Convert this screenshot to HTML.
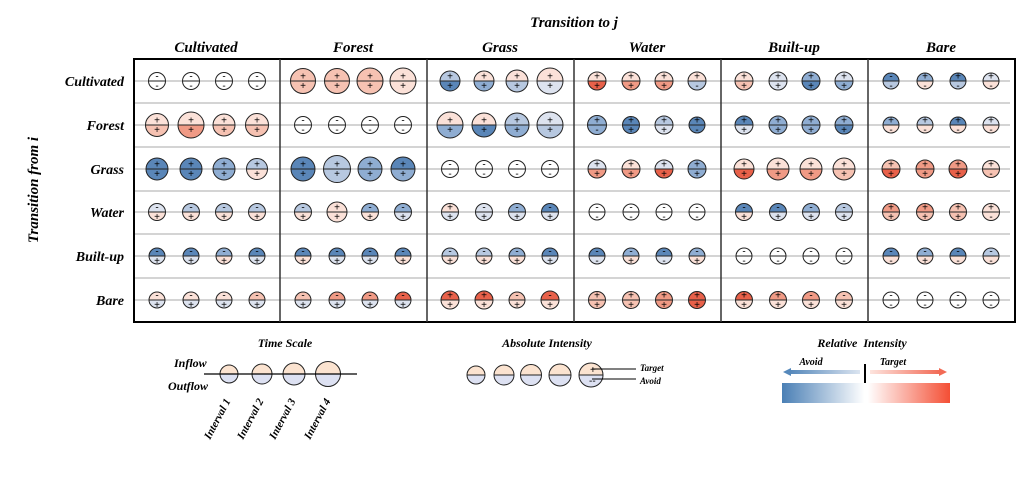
<!DOCTYPE html>
<html><head><meta charset="utf-8"><style>
html,body{margin:0;padding:0;background:#fff;}
svg{display:block;}
text{font-family:"Liberation Serif",serif;font-style:italic;font-weight:bold;fill:#000;}
.s{font-family:"Liberation Sans",sans-serif;font-style:normal;font-weight:normal;font-size:10px;}
</style></head><body>
<svg id="g" width="1024" height="488" viewBox="0 0 1024 488" xmlns="http://www.w3.org/2000/svg">
<defs>
<linearGradient id="bar" x1="0" x2="1"><stop offset="0" stop-color="#4a7fb5"/><stop offset="0.49" stop-color="#ffffff"/><stop offset="0.51" stop-color="#ffffff"/><stop offset="1" stop-color="#f44f35"/></linearGradient>
<linearGradient id="ab" x1="1" x2="0"><stop offset="0" stop-color="#dbe4f0"/><stop offset="1" stop-color="#5588bb"/></linearGradient>
<linearGradient id="ar" x1="0" x2="1"><stop offset="0" stop-color="#fde4de"/><stop offset="1" stop-color="#f26a55"/></linearGradient>
</defs>
<text x="574" y="27" font-size="15" text-anchor="middle">Transition to j</text>
<g font-size="15" text-anchor="middle">
<text x="206" y="52">Cultivated</text><text x="353" y="52">Forest</text><text x="500" y="52">Grass</text><text x="647" y="52">Water</text><text x="794" y="52">Built-up</text><text x="941" y="52">Bare</text>
</g>
<g font-size="14" text-anchor="end">
<text x="124" y="86">Cultivated</text><text x="124" y="130">Forest</text><text x="124" y="174">Grass</text><text x="124" y="217">Water</text><text x="124" y="261">Built-up</text><text x="124" y="305">Bare</text>
</g>
<text transform="translate(38,190) rotate(-90)" font-size="15" text-anchor="middle">Transition from i</text>
<g id="lines" stroke="#bbb" stroke-width="1.2"></g>
<g id="circ"></g>
<rect x="134" y="59" width="881" height="263" fill="none" stroke="#000" stroke-width="2"/>
<g stroke="#333" stroke-width="1.5"><line x1="280" y1="59" x2="280" y2="322"/><line x1="427" y1="59" x2="427" y2="322"/><line x1="574" y1="59" x2="574" y2="322"/><line x1="721" y1="59" x2="721" y2="322"/><line x1="868" y1="59" x2="868" y2="322"/></g>

<!-- legend: time scale -->
<text x="285" y="347" font-size="12" text-anchor="middle">Time Scale</text>
<text x="174" y="367" font-size="12">Inflow</text>
<text x="168" y="390" font-size="12">Outflow</text>
<g id="ts"></g>
<line x1="204" y1="374" x2="357" y2="374" stroke="#000" stroke-width="1.2"/>
<g font-size="11">
<text transform="translate(210,440) rotate(-62)">Interval 1</text>
<text transform="translate(243,440) rotate(-62)">Interval 2</text>
<text transform="translate(275,440) rotate(-62)">Interval 3</text>
<text transform="translate(310,440) rotate(-62)">Interval 4</text>
</g>
<!-- absolute -->
<text x="547" y="347" font-size="12" text-anchor="middle">Absolute Intensity</text>
<g id="ai"></g>
<line x1="592" y1="369" x2="636" y2="369" stroke="#000"/>
<line x1="592" y1="379" x2="636" y2="379" stroke="#000"/>
<text x="590" y="373" class="s" font-weight="bold">+</text>
<text x="589" y="384" class="s" font-weight="bold">--</text>
<text x="640" y="371" font-size="9">Target</text>
<text x="640" y="384" font-size="9">Avoid</text>
<!-- relative -->
<text x="862" y="347" font-size="12" text-anchor="middle">Relative&#160; Intensity</text>
<text x="811" y="365" font-size="10" text-anchor="middle">Avoid</text>
<text x="893" y="365" font-size="10" text-anchor="middle">Target</text>
<rect x="790" y="370" width="70" height="4" fill="url(#ab)"/>
<polygon points="783,372 791,368 791,376" fill="#5588bb"/>
<rect x="870" y="370" width="70" height="4" fill="url(#ar)"/>
<polygon points="947,372 939,368 939,376" fill="#f26a55"/>
<line x1="865" y1="364" x2="865" y2="385" stroke="#000" stroke-width="2"/>
<rect x="782" y="383" width="168" height="20" fill="url(#bar)"/>
</svg>
<script>
var C={W:"#ffffff",b1:"#dde3ef",b2:"#b7c8e0",b3:"#8fadd2",b4:"#5a86b8",r1:"#fbe1d8",r2:"#f6c2b2",r3:"#f09a85",r4:"#e8614a"};
var NS="http://www.w3.org/2000/svg";
function el(t,a,p){var e=document.createElementNS(NS,t);for(var k in a)e.setAttribute(k,a[k]);p.appendChild(e);return e;}
var rows=[81,125,169,212,256,300],mids=[103,147,191,234,278];
var L=document.getElementById("lines");
rows.concat(mids).forEach(function(y){el("line",{x1:134,y1:y,x2:1010,y2:y},L);});
var cols=[134,280,427,574,721,868],offs=[23,57,90,123];
// data: rows x cols, each cell 4 entries "r,top,bot,ts,bs"
var D=[
["8.5,W,W,-,-|8.5,W,W,-,-|8.5,W,W,-,-|8.5,W,W,-,-","12.5,r2,r2,+,+|12.5,r2,r2,+,+|13,r2,r2,+,+|13,r1,r1,+,+","10,b2,b4,+,+|10,r1,b3,+,+|11,r1,b2,+,+|13,r1,b1,+,+","9,r1,r4,+,+|9,r1,r3,+,+|9,r1,r3,+,+|9,r1,b2,+,-","9,r1,r2,+,+|9,b1,b1,+,+|9,b3,b4,+,+|9,b1,b3,+,+","8,b4,b2,-,-|8,b3,r1,+,-|8,b4,b2,+,-|8,b1,r1,+,-"],
["11.5,r1,r2,+,+|13,r1,r3,+,+|11,r1,r2,+,+|11.5,r1,r2,+,+","8.5,W,W,-,-|8.5,W,W,-,-|8.5,W,W,-,-|8.5,W,W,-,-","13,r1,b3,+,+|12,r1,b4,+,+|12,b2,b3,+,+|13,b1,b2,+,+","9.5,b3,b3,+,-|8.5,b4,b4,+,+|9,b2,b1,+,+|8,b4,b4,+,-","9,b4,b1,+,+|9,b3,b3,+,+|9,b3,b3,+,+|9,b3,b4,+,+","8,b3,r1,+,-|8,b2,r1,+,-|8,b4,r1,+,-|8,b1,r1,+,-"],
["11,b4,b4,+,+|11,b4,b4,+,+|11,b3,b3,+,+|10.5,b2,r1,+,+","12,b4,b4,+,+|13.5,b2,b2,+,+|12,b3,b3,+,+|12,b4,b3,+,+","8.5,W,W,-,-|8.5,W,W,-,-|8.5,W,W,-,-|8.5,W,W,-,-","9,b1,r3,+,+|9,r1,r3,+,+|9,b1,r4,+,+|9,b3,b3,+,+","10,r1,r4,+,+|11,r1,r3,+,+|11,r1,r3,+,+|11,r1,r2,+,+","9,r2,r4,+,+|9,r3,r3,+,+|9,r3,r4,+,+|8.5,r1,r2,+,-"],
["8.5,b1,r1,-,+|8.5,b2,r1,-,+|8.5,b2,r1,-,+|8.5,b2,r1,-,+","8.5,b2,r1,-,+|10,r1,r1,+,+|8.5,b3,r1,-,+|8.5,b3,b1,-,+","8.5,r1,b1,+,+|8.5,b1,b1,-,+|8.5,b3,b1,-,+|8.5,b4,b1,-,+","8,W,W,-,-|8,W,W,-,-|8,W,W,-,-|8,W,W,-,-","8.5,b4,r1,-,+|8.5,b4,b1,-,+|8.5,b3,b1,-,+|8.5,b2,b1,-,+","8.5,r3,r2,+,+|8.5,r3,r2,+,+|8.5,r2,r2,+,+|8.5,r1,r1,+,-"],
["8,b4,b1,-,+|8,b4,b1,-,+|8,b3,r1,-,+|8,b4,b1,-,+","8,b4,r1,-,+|8,b4,b1,-,+|8,b4,b1,-,+|8,b4,r1,-,+","8,b2,r1,-,+|8,b2,r1,-,+|8,b3,r1,-,+|8,b4,b1,-,+","8,b4,b1,-,-|8,b3,r1,-,+|8,b4,b1,-,-|8,b3,r1,-,+","8,W,W,-,-|8,W,W,-,-|8,W,W,-,-|8,W,W,-,-","8,b4,r1,-,-|8,b3,r1,-,+|8,b4,r1,-,-|8,b2,r1,-,-"],
["8,r1,b1,-,+|8,r1,b1,-,+|8,r1,b1,-,+|8,r2,b1,-,+","8,r2,b1,-,+|8,r3,b1,-,+|8,r3,b1,-,+|8,r4,b1,-,+","9,r4,r1,+,+|9,r4,r1,+,+|8,r2,r1,-,+|9,r4,r1,-,+","8.5,r2,r2,+,+|8.5,r2,r2,+,+|8.5,r3,r3,+,+|8.5,r4,r4,+,+","8.5,r4,r1,+,+|8.5,r3,r1,+,+|8.5,r3,r1,-,+|8.5,r2,r1,-,+","8,W,W,-,-|8,W,W,-,-|8,W,W,-,-|8,W,W,-,-"]];
var G=document.getElementById("circ");
function circ(cx,cy,r,t,b,p,sw){
 el("path",{d:"M"+(cx-r)+","+cy+" A"+r+","+r+" 0 0 1 "+(cx+r)+","+cy+" Z",fill:t},p);
 el("path",{d:"M"+(cx-r)+","+cy+" A"+r+","+r+" 0 0 0 "+(cx+r)+","+cy+" Z",fill:b},p);
 el("line",{x1:cx-r,y1:cy,x2:cx+r,y2:cy,stroke:"#222","stroke-width":1},p);
 el("circle",{cx:cx,cy:cy,r:r,fill:"none",stroke:"#222","stroke-width":sw||1},p);
}
D.forEach(function(row,i){row.forEach(function(cell,j){cell.split("|").forEach(function(c,k){
 var a=c.split(","),r=+a[0],cx=cols[j]+offs[k],cy=rows[i];
 circ(cx,cy,r,C[a[1]],C[a[2]],G);
 var t1=el("text",{x:cx,y:cy-1.5,"text-anchor":"middle","class":"s"},G);t1.textContent=a[3];
 var t2=el("text",{x:cx,y:cy+8,"text-anchor":"middle","class":"s"},G);t2.textContent=a[4];
});});});
var T=document.getElementById("ts");
[[229,9],[262,10],[294,11],[328,12.5]].forEach(function(q){circ(q[0],374,q[1],"#fbe3d0","#dde1f2",T);});
var A=document.getElementById("ai");
[[476,9,0],[504,10,-2],[531,10.5,0],[560,11,0],[591,12,0]].forEach(function(q){circ(q[0],375,q[1],"#fbe3d0","#dde1f2",A);});
</script>
</body></html>
